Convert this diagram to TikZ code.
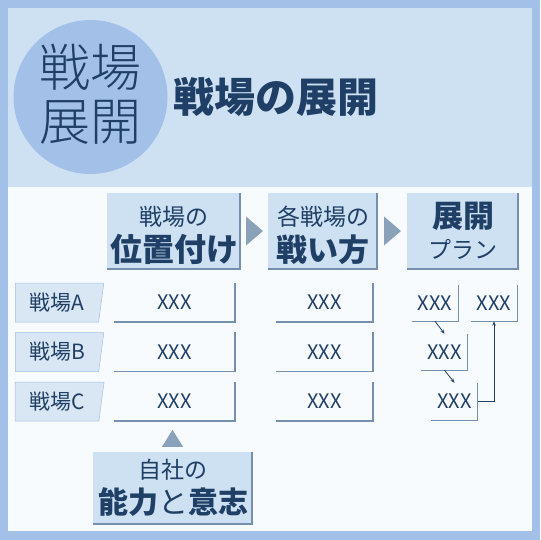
\documentclass[tikz,border=0pt]{standalone}
\usepackage{fontspec}
\setmainfont{Noto Sans CJK JP}
\newfontfamily\jplight{Noto Sans CJK JP Light}
\usetikzlibrary{arrows.meta, calc, positioning, shapes.geometric}
\definecolor{frameblue}{HTML}{A2C0E8}
\definecolor{headfill}{HTML}{CEE1F3}
\definecolor{paper}{HTML}{F8FBFE}
\definecolor{ink}{HTML}{1F3F66}
\definecolor{shade}{HTML}{7590AE}
\definecolor{labfill}{HTML}{D9E6F3}
\newcommand{\fs}[1]{\fontsize{#1}{#1}\selectfont}

\begin{document}
\begin{tikzpicture}[
    x=1pt, y=-1pt,
    text=ink,
    head/.style={fill=headfill, minimum height=76pt, inner sep=0pt},
    small/.style={inner sep=0pt, font=\fs{23}},
    big/.style={inner sep=0pt, font=\bfseries\fs{31}},
    cell/.style={inner sep=0pt, minimum height=39pt, font=\fs{20}},
    mini/.style={inner sep=0pt, minimum width=46pt, minimum height=36pt, font=\fs{20}},
    rowlab/.style={trapezium, trapezium stretches=true, shape border rotate=180,
        trapezium left angle=80, trapezium right angle=90,
        fill=labfill, draw=frameblue, line width=0.5pt,
        minimum width=89pt, minimum height=39pt, inner sep=0pt, font=\fs{21}},
    edge/.style={draw=shade, line width=1.5pt},
    tri/.style={fill=shade!85!white},
    move/.style={-{Stealth[length=4.5pt, width=3.5pt]}, ink, line width=0.8pt}
]
\useasboundingbox (0,0) rectangle (540,540);
% frame and panels
\fill[frameblue] (0,0) rectangle (540,540);
\fill[headfill] (8,8) rectangle (532,187);
\fill[paper] (8,187) rectangle (532,531);

% badge and title
\node[circle, fill=frameblue, minimum size=154pt, inner sep=0pt] (badge) at (90.5,97) {};
\node[inner sep=0pt, font=\jplight\fs{51}] (badgetop) at (90,67) {戦場};
\node[inner sep=0pt, font=\jplight\fs{51}] (badgebot) at (90,122) {展開};
\node[inner sep=0pt, font=\bfseries\fs{41}] (title) at (276,97) {戦場の展開};

% column heads
\node[head, minimum width=133pt] (posbox) at (173.5,231) {};
\node[head, minimum width=109pt] (waybox) at (322.5,231) {};
\node[head, minimum width=111pt] (planbox) at (462.5,231) {};
\foreach \b in {posbox, waybox, planbox}
    \draw[edge, line width=2pt] (\b.north east) -- (\b.south east) -- (\b.south west);
\node[small] (postop) at (174,216.5) {戦場の};
\node[big, font=\bfseries\fs{32}] (posbot) at (174,249.5) {位置付け};
\node[small] (waytop) at (323,216.5) {各戦場の};
\node[big] (waybot) at (323,249.5) {戦い方};
\node[big] (plantop) at (463,216.5) {展開};
\node[small] (planbot) at (463,249.5) {プラン};
\coordinate (gapa) at ($(posbox.east)!0.5!(waybox.west)$);
\coordinate (gapb) at ($(waybox.east)!0.5!(planbox.west)$);
\foreach \g in {gapa, gapb}
    \fill[tri] ($(\g)+(-8,-14.5)$) -- ++(0,29) -- ++(17,-14.5) -- cycle;

% rows
\foreach \r/\y in {A/302.5, B/352, C/401.5} {
    \node[rowlab] (lab\r) at (57,\y) {戦場\r};
    \node[cell, minimum width=121pt] (pos\r) at (174.5,\y) {XXX};
    \node[cell, minimum width=97pt] (way\r) at (324.5,\y) {XXX};
    \draw[edge] (pos\r.north east) -- (pos\r.south east) -- (pos\r.south west);
    \draw[edge] (way\r.north east) -- (way\r.south east) -- (way\r.south west);
}

% plan cells
\node[mini] (planA) at (435,303) {XXX};
\node[mini] (planD) at (494,303) {XXX};
\node[mini] (planB) at (444.5,352) {XXX};
\node[mini, minimum height=37pt] (planC) at (454.5,401.5) {XXX};
\foreach \c in {planA, planD, planB, planC}
    \draw[edge, line width=1.2pt] (\c.north east) -- (\c.south east) -- (\c.south west);
\draw[move] (planA.south) -- (planB.north);
\draw[move] (planB.south) -- (planC.north);
\draw[move] (planC.east) -| (planD.south);

% own capability
\node[head, minimum width=159pt, minimum height=72pt] (selfbox) at (172.5,488) {};
\draw[edge, line width=2pt] (selfbox.north east) -- (selfbox.south east) -- (selfbox.south west);
\node[small] (selftop) at (173,470) {自社の};
\node[inner sep=0pt, font=\fs{30}] (selfbot) at (173,502)
    {{\bfseries 能力}と{\bfseries 意志}};
\fill[tri] ($(selfbox.north)+(-10.5,-5)$) -- ++(21,0) -- ++(-10.5,-17) -- cycle;
\end{tikzpicture}
\end{document}
